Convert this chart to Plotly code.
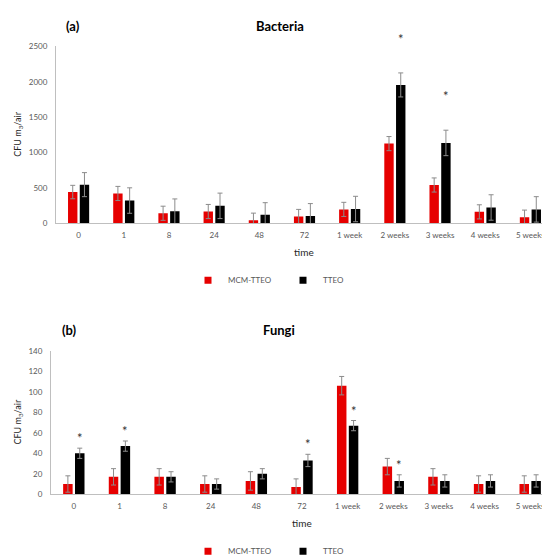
import plotly.graph_objects as go

# time points (x categories)
times = ["0", "1", "8", "24", "48", "72", "1 week", "2 weeks", "3 weeks", "4 weeks", "5 weeks"]

# (a) Bacteria, CFU m3/air
bact_mcm = [440, 420, 140, 165, 42, 95, 195, 1125, 540, 160, 85]
bact_mcm_err = [95, 100, 100, 100, 100, 100, 100, 100, 100, 100, 100]
bact_tteo = [545, 320, 168, 245, 120, 102, 200, 1955, 1135, 222, 195]
bact_tteo_err = [170, 180, 175, 180, 170, 175, 180, 170, 180, 180, 180]
bact_sig = [0, 0, 0, 0, 0, 0, 0, 1, 1, 0, 0]

# (b) Fungi, CFU m3/air
fungi_mcm = [10, 17, 17, 10, 13, 7, 106, 27, 17, 10, 10]
fungi_mcm_err = [8, 8, 8, 8, 9, 8, 9, 8, 8, 8, 8]
fungi_tteo = [40, 47, 17, 10, 20, 33, 67, 13, 13, 13, 13]
fungi_tteo_err = [5, 5, 5, 5, 5, 6, 5, 6, 6, 6, 6]
fungi_sig = [1, 1, 0, 0, 0, 1, 1, 1, 0, 0, 0]

RED = "#e60000"
BLACK = "#000000"
ERR = "#8c8c8c"
TICK = "#595959"
FONT = "Lato"

fig = go.Figure()

panels = [
    ("x", "y", "legend", bact_mcm, bact_mcm_err, bact_tteo, bact_tteo_err),
    ("x2", "y2", "legend2", fungi_mcm, fungi_mcm_err, fungi_tteo, fungi_tteo_err),
]

for xa, ya, lg, mcm, mcm_err, tteo, tteo_err in panels:
    for name, vals, errs, col in [("MCM-TTEO", mcm, mcm_err, RED), ("TTEO", tteo, tteo_err, BLACK)]:
        fig.add_trace(go.Bar(
            x=times, y=vals, name=name, marker_color=col, marker_line_width=0,
            error_y=dict(type="data", array=errs, color=ERR, thickness=1, width=2.5),
            xaxis=xa, yaxis=ya, showlegend=False,
        ))
        # small square legend markers
        fig.add_trace(go.Scatter(
            x=[times[0]], y=[None], mode="markers", name=name,
            marker=dict(symbol="square", size=7, color=col),
            xaxis=xa, yaxis=ya, legend=lg, hoverinfo="skip",
        ))

annotations = []

# significance stars above TTEO bars
for xa, ya, tteo, tteo_err, sig, shift in [
    ("x", "y", bact_tteo, bact_tteo_err, bact_sig, 34),
    ("x2", "y2", fungi_tteo, fungi_tteo_err, fungi_sig, 10),
]:
    for i, s in enumerate(sig):
        if s:
            annotations.append(dict(
                x=i, y=tteo[i] + tteo_err[i], xref=xa, yref=ya,
                text="*", showarrow=False, yshift=shift, xshift=6,
                font=dict(size=13, color="#333333", family=FONT),
                yanchor="middle",
            ))

def paper_text(text, x, y, size, bold=True, color="#000000", angle=0):
    return dict(
        text=f"<b>{text}</b>" if bold else text,
        x=x / 550, y=1 - y / 560, xref="paper", yref="paper",
        showarrow=False, textangle=angle,
        font=dict(size=size, color=color, family=FONT),
        xanchor="center", yanchor="middle",
    )

annotations += [
    paper_text("(a)", 65, 13, 13),
    paper_text("Bacteria", 272, 13, 13),
    paper_text("(b)", 61, 323, 13),
    paper_text("Fungi", 271, 323, 13),
    paper_text("CFU m<sub>3</sub>/air", 10, 124, 9, bold=False, color="#262626", angle=-90),
    paper_text("CFU m<sub>3</sub>/air", 10, 417, 9, bold=False, color="#262626", angle=-90),
    paper_text("time", 296, 243, 10, bold=False, color="#262626"),
    paper_text("time", 294, 519, 10, bold=False, color="#262626"),
]

xa_style = dict(
    type="category", showgrid=False, showline=True, linecolor="#bfbfbf", linewidth=1,
    ticks="", tickfont=dict(size=8, color=TICK, family=FONT), ticklabelstandoff=4,
    zeroline=False, range=[-0.5, len(times) - 0.5], tickangle=0,
)
ya_style = dict(
    showgrid=False, showline=True, linecolor="#bfbfbf", linewidth=1, ticks="",
    tickfont=dict(size=8, color=TICK, family=FONT), zeroline=False, ticklabelstandoff=6,
)

leg_style = dict(
    orientation="h", xanchor="center", yanchor="middle",
    font=dict(size=8, color=TICK, family=FONT), itemwidth=30,
    entrywidth=50, entrywidthmode="pixels",
    bgcolor="rgba(0,0,0,0)",
)

fig.update_layout(
    width=550, height=560,
    margin=dict(l=0, r=0, t=0, b=0),
    paper_bgcolor="white", plot_bgcolor="white",
    barmode="group", bargap=0.48, bargroupgap=0.2,
    font=dict(family=FONT),
    xaxis=dict(domain=[48 / 550, 545 / 550], anchor="y", **xa_style),
    yaxis=dict(domain=[1 - 214 / 560, 1 - 34 / 560], anchor="x", range=[0, 2500], dtick=500, **ya_style),
    xaxis2=dict(domain=[43 / 550, 545 / 550], anchor="y2", **xa_style),
    yaxis2=dict(domain=[1 - 490 / 560, 1 - 344 / 560], anchor="x2", range=[0, 140], dtick=20, **ya_style),
    legend=dict(x=0.5, y=1 - 272 / 560, **leg_style),
    legend2=dict(x=0.5, y=1 - 548 / 560, **leg_style),
    annotations=annotations,
)

fig.write_html("out.html")
